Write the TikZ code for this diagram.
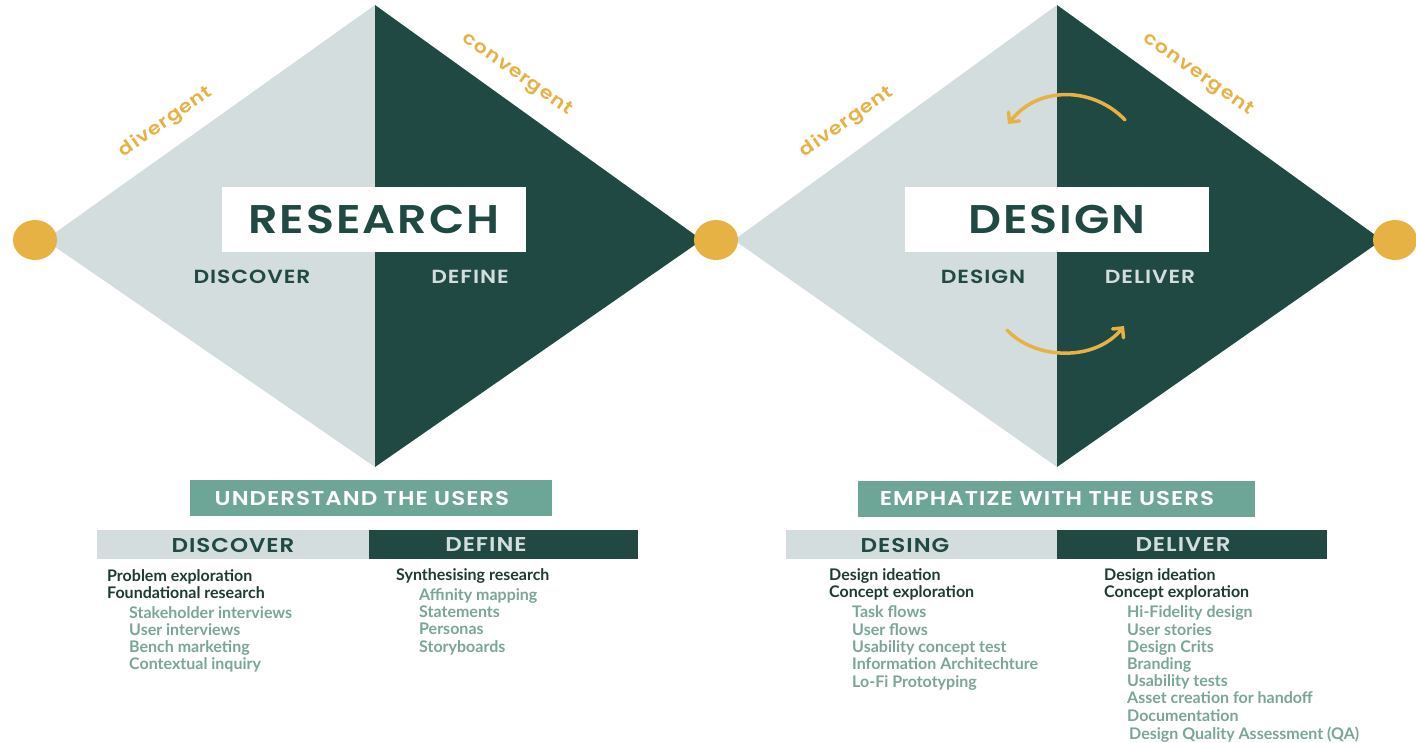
\documentclass[tikz,border=0pt]{standalone}
\usepackage{fontspec}
\setmainfont{Lato}
\IfFontExistsTF{Poppins SemiBold}{%
  \newfontfamily\headfont{Poppins}[BoldFont={Poppins SemiBold},FakeStretch=1.15,LetterSpace=5]%
}{%
  \newfontfamily\headfont{Poppins}[FakeStretch=1.15,LetterSpace=5]%
}
\usetikzlibrary{arrows.meta,shapes.geometric}
\definecolor{lightfill}{HTML}{D3DDDE}
\definecolor{darkfill}{HTML}{1F4942}
\definecolor{gold}{HTML}{E6B244}
\definecolor{tealbox}{HTML}{6DA596}
\definecolor{tealtext}{HTML}{79A697}
\definecolor{darktext}{HTML}{1D3A33}
\begin{document}
\begin{tikzpicture}[x=1pt,y=-1pt,
  dot/.style={ellipse,fill=gold,minimum width=44pt,minimum height=40pt,inner sep=0pt},
  titlebox/.style={fill=white,minimum width=304pt,minimum height=65pt,inner sep=0pt,text=darkfill,font=\headfont\bfseries\fontsize{40}{40}\selectfont},
  phase/.style={font=\headfont\bfseries\fontsize{19}{19}\selectfont,inner sep=0pt},
  flowlbl/.style={font=\headfont\bfseries\fontsize{18}{18}\selectfont,text=gold,inner sep=0pt},
  goalbox/.style={fill=tealbox,minimum height=36pt,inner sep=0pt},
  goallbl/.style={inner sep=0pt,text=white,font=\headfont\bfseries\fontsize{20}{20}\selectfont},
  barbox/.style={minimum height=29pt,inner sep=0pt},
  barlbl/.style={font=\headfont\bfseries\fontsize{20}{20}\selectfont,inner sep=0pt},
  mainitem/.style={anchor=base west,inner sep=0pt,text=darktext,font=\bfseries\fontsize{16}{16}\selectfont},
  subitem/.style={anchor=base west,inner sep=0pt,text=tealtext,font=\bfseries\fontsize{16}{16}\selectfont},
  cyc/.style={draw=gold,line width=3.5pt,line cap=round,-{Straight Barb[length=7pt,width=14pt,line cap=round]}}
]
\useasboundingbox[fill=white] (0,0) rectangle (1416,742);
% left diamond
\fill[lightfill] (45,240) -- (375,5) -- (375,467) -- cycle;
\fill[darkfill] (375,5) -- (702,240) -- (375,467) -- cycle;
% right diamond
\fill[lightfill] (734,240) -- (1057,5) -- (1057,467) -- cycle;
\fill[darkfill] (1057,5) -- (1382,240) -- (1057,467) -- cycle;
% dots
\node[dot] (d1) at (35,240) {};
\node[dot] (d2) at (716,240) {};
\node[dot] (d3) at (1395,240) {};
% titles
\node[titlebox] (research) at (374,219.5) {RESEARCH};
\node[titlebox] (design) at (1057,219.5) {DESIGN};
\node[phase,text=darkfill] (discover) at (252,277) {DISCOVER};
\node[phase,text=lightfill] (define) at (470,277) {DEFINE};
\node[phase,text=darkfill] (designp) at (983,277) {DESIGN};
\node[phase,text=lightfill] (deliver) at (1150,277) {DELIVER};
% flow labels
\node[flowlbl,rotate=35] (div1) at (166,122) {divergent};
\node[flowlbl,rotate=-35] (conv1) at (517,75) {convergent};
\node[flowlbl,rotate=35] (div2) at (847,122) {divergent};
\node[flowlbl,rotate=-35] (conv2) at (1198,75) {convergent};
% cycle arrows
\coordinate (a1s) at (1125,120);
\coordinate (a1e) at (1008,124);
\coordinate (a2s) at (1007,330);
\coordinate (a2e) at (1124,326);
\draw[cyc] (a1s) .. controls (1095,88) and (1040,84) .. (a1e);
\draw[cyc] (a2s) .. controls (1035,360) and (1095,362) .. (a2e);
% goal boxes
\node[goalbox,minimum width=362pt] (goal1) at (371,498) {};
\node[goallbl] (goal1t) at (362,498) {UNDERSTAND THE USERS};
\node[goalbox,minimum width=397pt] (goal2) at (1056.5,498.5) {};
\node[goallbl] (goal2t) at (1047,498.5) {EMPHATIZE WITH THE USERS};
% bars
\node[barbox,fill=lightfill,minimum width=272pt] (bar1) at (233,544.5) {};
\node[barbox,fill=darkfill,minimum width=269pt] (bar2) at (503.5,544.5) {};
\node[barbox,fill=lightfill,minimum width=271pt] (bar3) at (921.5,544.5) {};
\node[barbox,fill=darkfill,minimum width=270pt] (bar4) at (1192,544.5) {};
\node[barlbl,text=darkfill] (bl1) at (233,545) {DISCOVER};
\node[barlbl,text=lightfill] (bl2) at (486,545) {DEFINE};
\node[barlbl,text=darkfill] (bl3) at (905,545) {DESING};
\node[barlbl,text=lightfill] (bl4) at (1183,545) {DELIVER};
% lists: discover
\node[mainitem] (l1) at (107,581) {Problem exploration};
\node[mainitem] (l2) at (107,598) {Foundational research};
\node[subitem] (l3) at (129,618) {Stakeholder interviews};
\node[subitem] (l4) at (129,635) {User interviews};
\node[subitem] (l5) at (129,652) {Bench marketing};
\node[subitem] (l6) at (129,669) {Contextual inquiry};
% define
\node[mainitem] (r1) at (396,580) {Synthesising research};
\node[subitem] (r2) at (419,600) {Affinity mapping};
\node[subitem] (r3) at (419,617) {Statements};
\node[subitem] (r4) at (419,634) {Personas};
\node[subitem] (r5) at (419,652) {Storyboards};
% desing
\node[mainitem] (m1) at (829,580) {Design ideation};
\node[mainitem] (m2) at (829,597) {Concept exploration};
\node[subitem] (m3) at (852,617) {Task flows};
\node[subitem] (m4) at (852,635) {User flows};
\node[subitem] (m5) at (852,652) {Usability concept test};
\node[subitem] (m6) at (852,669) {Information Architechture};
\node[subitem] (m7) at (852,687) {Lo-Fi Prototyping};
% deliver
\node[mainitem] (n1) at (1104,580) {Design ideation};
\node[mainitem] (n2) at (1104,597) {Concept exploration};
\node[subitem] (n3) at (1127,617) {Hi-Fidelity design};
\node[subitem] (n4) at (1127,635) {User stories};
\node[subitem] (n5) at (1127,652) {Design Crits};
\node[subitem] (n6) at (1127,669) {Branding};
\node[subitem] (n7) at (1127,686) {Usability tests};
\node[subitem] (n8) at (1127,703) {Asset creation for handoff};
\node[subitem] (n9) at (1127,721) {Documentation};
\node[subitem] (n10) at (1129,739) {Design Quality Assessment (QA)};
\end{tikzpicture}
\end{document}
